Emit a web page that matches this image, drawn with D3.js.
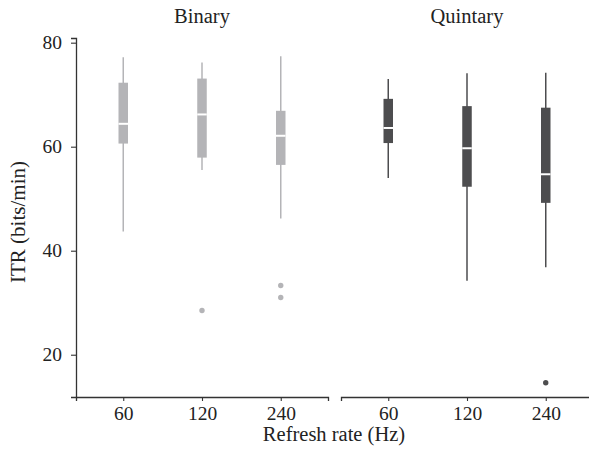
<!DOCTYPE html>
<html>
<head>
<meta charset="utf-8">
<script src="https://cdn.jsdelivr.net/npm/d3@7"></script>
<style>
  body { margin: 0; background: #fff; }
  svg { display: block; }
  text { font-family: "Liberation Serif", "Times New Roman", serif; fill: #222; }
</style>
</head>
<body>
<svg id="chart" width="589" height="459"></svg>
<script>
const panels = ["Binary", "Quintary"];
const categories = ["60", "120", "240"];
const panelColors = ["#b4b4b7", "#4d4d4f"];
// per panel, per category
const whiskerLow  = [[43.7, 55.5, 46.2], [54.0, 34.2, 36.8]];
const q1          = [[60.6, 57.9, 56.5], [60.7, 52.3, 49.2]];
const median      = [[64.4, 66.2, 62.1], [63.6, 59.7, 54.7]];
const q3          = [[72.3, 73.1, 66.9], [69.2, 67.8, 67.5]];
const whiskerHigh = [[77.2, 76.2, 77.4], [73.0, 74.1, 74.2]];
const outliers    = [[[], [28.5], [33.3, 31.0]], [[], [], [14.6]]];
const yTicks = [20, 40, 60, 80];

const svg = d3.select("#chart");
const plotTop = 38, plotBottom = 397;
const panelX = [76, 341];
const panelW = 252;

const y = d3.scaleLinear().domain([11.87, 80.9]).range([plotBottom, plotTop]);

panels.forEach((p, pi) => {
  const x = d3.scalePoint().domain(categories).range([panelX[pi], panelX[pi] + panelW]).padding(0.6);
  const g = svg.append("g");
  const col = panelColors[pi];
  const bw = 9.5;

  const xa = g.append("g").attr("transform", `translate(0,${plotBottom})`)
    .call(d3.axisBottom(x).tickSizeOuter(0).tickSize(4).tickPadding(5));
  xa.select(".domain").attr("stroke", "#333").attr("stroke-width", 1.3);
  xa.selectAll(".tick line").attr("stroke", "#333").attr("stroke-width", 1.1);
  xa.selectAll(".tick text").attr("font-size", 19.5).attr("font-family", "Liberation Serif").attr("fill", "#222");

  g.append("text").attr("x", panelX[pi] + panelW / 2).attr("y", 23)
    .attr("text-anchor", "middle").attr("font-size", 20.5).text(p);

  categories.forEach((c, ci) => {
    const cx = x(c);
    g.append("line").attr("x1", cx).attr("x2", cx)
      .attr("y1", y(whiskerLow[pi][ci])).attr("y2", y(whiskerHigh[pi][ci]))
      .attr("stroke", col).attr("stroke-width", 1.5);
    g.append("rect").attr("x", cx - bw / 2).attr("width", bw)
      .attr("y", y(q3[pi][ci])).attr("height", y(q1[pi][ci]) - y(q3[pi][ci]))
      .attr("fill", col);
    g.append("line").attr("x1", cx - bw / 2).attr("x2", cx + bw / 2)
      .attr("y1", y(median[pi][ci])).attr("y2", y(median[pi][ci]))
      .attr("stroke", "#fff").attr("stroke-width", 2);
    outliers[pi][ci].forEach(v => {
      g.append("circle").attr("cx", cx).attr("cy", y(v)).attr("r", 2.7).attr("fill", col);
    });
  });

  if (pi === 0) {
    const ya = g.append("g").attr("transform", `translate(${panelX[0]},0)`)
      .call(d3.axisLeft(y).tickValues(yTicks).tickSizeOuter(0).tickSize(5).tickPadding(9));
    ya.select(".domain").attr("stroke", "#333").attr("stroke-width", 1.3);
    ya.selectAll(".tick line").attr("stroke", "#333").attr("stroke-width", 1.1);
    ya.selectAll(".tick text").attr("font-size", 19.5).attr("font-family", "Liberation Serif").attr("fill", "#222");
  }
});

svg.append("text").attr("x", 334).attr("y", 441).attr("text-anchor", "middle")
  .attr("font-size", 20.5).text("Refresh rate (Hz)");
svg.append("text").attr("transform", "translate(25,222) rotate(-90)")
  .attr("text-anchor", "middle").attr("font-size", 21).text("ITR (bits/min)");
</script>
</body>
</html>
